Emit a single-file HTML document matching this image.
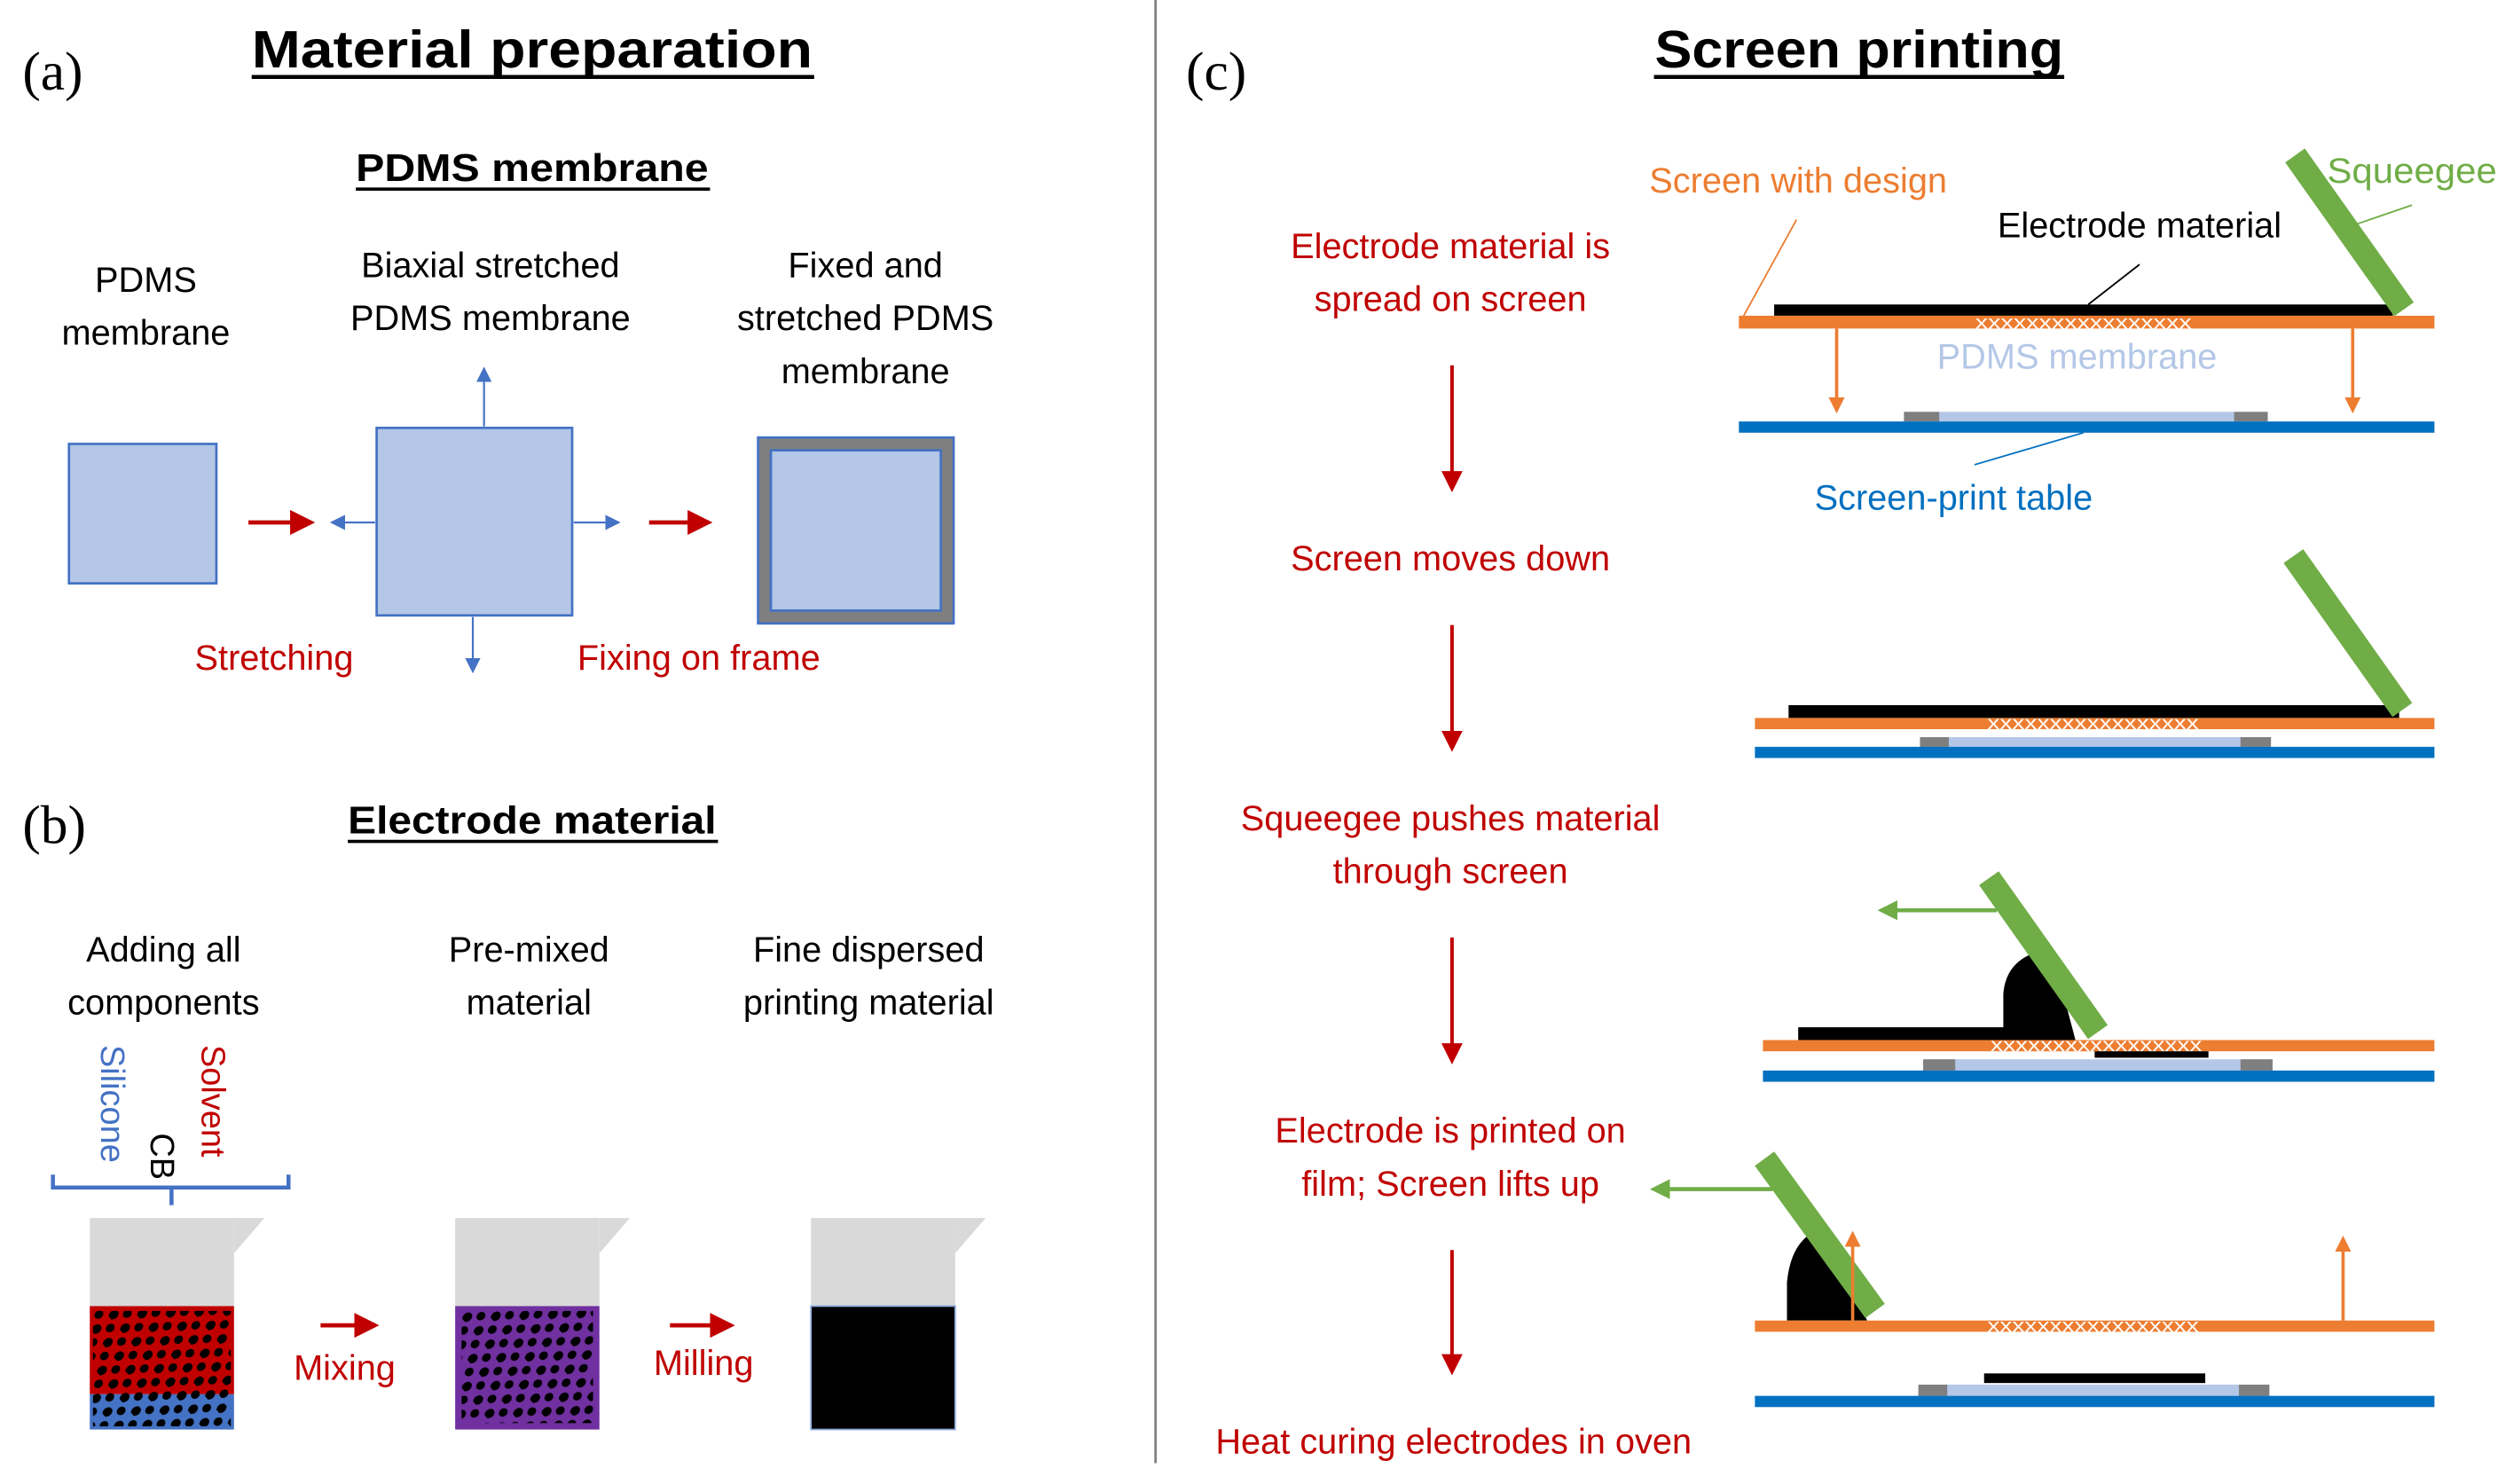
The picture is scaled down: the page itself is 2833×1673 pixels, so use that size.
<!DOCTYPE html>
<html><head><meta charset="utf-8"><style>
html,body{margin:0;padding:0;background:#fff;}
svg{display:block;}
text{font-family:"Liberation Sans",sans-serif;}
.r{fill:#c00000;font-size:22px;text-anchor:middle;}
.k{fill:#000;font-size:22px;text-anchor:middle;}
</style></head><body>
<svg width="2833" height="1673" viewBox="0 0 1568 926" xmlns="http://www.w3.org/2000/svg">
<defs>
<pattern id="dots" width="14" height="11" patternUnits="userSpaceOnUse" patternTransform="rotate(-40)">
<ellipse cx="3" cy="3" rx="3.4" ry="2.6" fill="#000"/>
<ellipse cx="10" cy="8" rx="3" ry="2.4" fill="#000"/>
</pattern>
<marker id="ar" markerWidth="6" markerHeight="6" refX="5" refY="3" orient="auto" markerUnits="strokeWidth"><path d="M0,0 L6,3 L0,6 z" fill="#c00000"/></marker>
<marker id="ab" markerWidth="8" markerHeight="8" refX="7" refY="4" orient="auto" markerUnits="strokeWidth"><path d="M0,0 L8,4 L0,8 z" fill="#4472c4"/></marker>
<marker id="ao" markerWidth="5" markerHeight="5" refX="4" refY="2.5" orient="auto" markerUnits="strokeWidth"><path d="M0,0 L5,2.5 L0,5 z" fill="#ed7d31"/></marker>
<marker id="ag" markerWidth="5" markerHeight="5" refX="4" refY="2.5" orient="auto" markerUnits="strokeWidth"><path d="M0,0 L5,2.5 L0,5 z" fill="#70ad47"/></marker>
</defs>
<rect width="1568" height="926" fill="#fff"/>
<line x1="721" y1="0" x2="721" y2="913" stroke="#7f7f7f" stroke-width="1.5"/>

<text x="14" y="56" style="font-family:'Liberation Serif',serif;font-size:34px">(a)</text>
<text x="14" y="526" style="font-family:'Liberation Serif',serif;font-size:34px">(b)</text>
<text x="740" y="56" style="font-family:'Liberation Serif',serif;font-size:34px">(c)</text>

<text x="332" y="42" text-anchor="middle" font-weight="bold" font-size="33" textLength="350" lengthAdjust="spacingAndGlyphs">Material preparation</text>
<line x1="157" y1="48" x2="508" y2="48" stroke="#000" stroke-width="2.5"/>
<text x="1160" y="42" text-anchor="middle" font-weight="bold" font-size="33" textLength="255" lengthAdjust="spacingAndGlyphs">Screen printing</text>
<line x1="1032" y1="48" x2="1288" y2="48" stroke="#000" stroke-width="2.5"/>
<text x="332" y="113" text-anchor="middle" font-weight="bold" font-size="24" textLength="220" lengthAdjust="spacingAndGlyphs">PDMS membrane</text>
<line x1="222" y1="118" x2="443" y2="118" stroke="#000" stroke-width="2"/>
<text x="332" y="520" text-anchor="middle" font-weight="bold" font-size="24" textLength="230" lengthAdjust="spacingAndGlyphs">Electrode material</text>
<line x1="217" y1="525" x2="448" y2="525" stroke="#000" stroke-width="2"/>

<!-- (a) -->
<text class="k" x="91" y="182">PDMS</text>
<text class="k" x="91" y="215">membrane</text>
<text class="k" x="306" y="173">Biaxial stretched</text>
<text class="k" x="306" y="206">PDMS membrane</text>
<text class="k" x="540" y="173">Fixed and</text>
<text class="k" x="540" y="206">stretched PDMS</text>
<text class="k" x="540" y="239">membrane</text>
<rect x="43" y="277" width="92" height="87" fill="#b4c7e7" stroke="#4472c4" stroke-width="1.5"/>
<rect x="235" y="267" width="122" height="117" fill="#b4c7e7" stroke="#4472c4" stroke-width="1.5"/>
<rect x="473" y="273" width="122" height="116" fill="#7f7f7f" stroke="#4472c4" stroke-width="1.5"/>
<rect x="481" y="281" width="106" height="100" fill="#b4c7e7" stroke="#4472c4" stroke-width="1.5"/>
<line x1="155" y1="326" x2="194" y2="326" stroke="#c00000" stroke-width="2.6" marker-end="url(#ar)"/>
<line x1="405" y1="326" x2="442" y2="326" stroke="#c00000" stroke-width="2.6" marker-end="url(#ar)"/>
<line x1="302" y1="266" x2="302" y2="230" stroke="#4472c4" stroke-width="1.2" marker-end="url(#ab)"/>
<line x1="295" y1="385" x2="295" y2="419" stroke="#4472c4" stroke-width="1.2" marker-end="url(#ab)"/>
<line x1="234" y1="326" x2="207" y2="326" stroke="#4472c4" stroke-width="1.2" marker-end="url(#ab)"/>
<line x1="358" y1="326" x2="386" y2="326" stroke="#4472c4" stroke-width="1.2" marker-end="url(#ab)"/>
<text class="r" x="171" y="418">Stretching</text>
<text class="r" x="436" y="418">Fixing on frame</text>

<!-- (b) -->
<text class="k" x="102" y="600">Adding all</text>
<text class="k" x="102" y="633">components</text>
<text class="k" x="330" y="600">Pre-mixed</text>
<text class="k" x="330" y="633">material</text>
<text class="k" x="542" y="600">Fine dispersed</text>
<text class="k" x="542" y="633">printing material</text>
<text transform="translate(63,652) rotate(90)" font-size="21" fill="#4472c4">Silicone</text>
<text transform="translate(94,707) rotate(90)" font-size="21" fill="#000">CB</text>
<text transform="translate(126,652) rotate(90)" font-size="21" fill="#c00000">Solvent</text>
<path d="M33,733 V741 H180 V733 M107,741 V752" fill="none" stroke="#4472c4" stroke-width="2.5"/>

<g>
<rect x="56" y="760" width="90" height="56" fill="#d9d9d9"/><path d="M146,760 H165 L146,782 z" fill="#d9d9d9"/>
<rect x="56" y="815" width="90" height="55" fill="#c00000"/><rect x="56" y="870" width="90" height="22" fill="#4472c4"/>
<rect x="58" y="818" width="86" height="72" fill="url(#dots)"/>
<rect x="284" y="760" width="90" height="56" fill="#d9d9d9"/><path d="M374,760 H393 L374,782 z" fill="#d9d9d9"/>
<rect x="284" y="815" width="90" height="77" fill="#7030a0"/>
<rect x="288" y="818" width="82" height="70" fill="url(#dots)"/>
<rect x="506" y="760" width="90" height="56" fill="#d9d9d9"/><path d="M596,760 H615 L596,782 z" fill="#d9d9d9"/>
<rect x="506" y="815" width="90" height="77" fill="#000" stroke="#8faadc" stroke-width="1"/>
</g>
<line x1="200" y1="827" x2="234" y2="827" stroke="#c00000" stroke-width="2.6" marker-end="url(#ar)"/>
<line x1="418" y1="827" x2="456" y2="827" stroke="#c00000" stroke-width="2.6" marker-end="url(#ar)"/>
<text class="r" x="215" y="861">Mixing</text>
<text class="r" x="439" y="858">Milling</text>

<!-- (c) left column -->
<text class="r" x="905" y="161">Electrode material is</text>
<text class="r" x="905" y="194">spread on screen</text>
<text class="r" x="905" y="356">Screen moves down</text>
<text class="r" x="905" y="518">Squeegee pushes material</text>
<text class="r" x="905" y="551">through screen</text>
<text class="r" x="905" y="713">Electrode is printed on</text>
<text class="r" x="905" y="746">film; Screen lifts up</text>
<text class="r" x="907" y="907">Heat curing electrodes in oven</text>
<g stroke="#c00000" stroke-width="2.2" marker-end="url(#ar)">
<line x1="906" y1="228" x2="906" y2="305"/>
<line x1="906" y1="390" x2="906" y2="467"/>
<line x1="906" y1="585" x2="906" y2="662"/>
<line x1="906" y1="780" x2="906" y2="856"/>
</g>

<!-- diagram 1 -->
<text x="1122" y="120" text-anchor="middle" font-size="22" fill="#ed7d31">Screen with design</text>
<text x="1452" y="114" font-size="22" fill="#70ad47" textLength="106" lengthAdjust="spacingAndGlyphs">Squeegee</text>
<text x="1335" y="148" text-anchor="middle" font-size="22">Electrode material</text>
<line x1="1088" y1="197" x2="1121" y2="137" stroke="#ed7d31" stroke-width="1"/>
<line x1="1303" y1="190" x2="1335" y2="165" stroke="#000" stroke-width="1"/>
<line x1="1470" y1="140" x2="1505" y2="128" stroke="#70ad47" stroke-width="1"/>
<rect x="1107" y="190" width="386" height="7" fill="#000"/>
<rect x="1085" y="197" width="434" height="8" fill="#ed7d31"/>
<text x="1300" y="205" text-anchor="middle" font-size="12" fill="#fff" textLength="135" lengthAdjust="spacingAndGlyphs">xxxxxxxxxxxxxxxxx</text>
<line x1="1432" y1="97" x2="1500" y2="193" stroke="#70ad47" stroke-width="15"/>
<line x1="1146" y1="205" x2="1146" y2="256" stroke="#ed7d31" stroke-width="2" marker-end="url(#ao)"/>
<line x1="1468" y1="205" x2="1468" y2="256" stroke="#ed7d31" stroke-width="2" marker-end="url(#ao)"/>
<text x="1296" y="230" text-anchor="middle" font-size="22" fill="#b4c7e7">PDMS membrane</text>
<rect x="1188" y="257" width="227" height="6" fill="#b4c7e7"/>
<rect x="1188" y="257" width="22" height="6" fill="#7f7f7f"/><rect x="1394" y="257" width="21" height="6" fill="#7f7f7f"/>
<rect x="1085" y="263" width="434" height="7" fill="#0070c0"/>
<line x1="1300" y1="270" x2="1232" y2="290" stroke="#0070c0" stroke-width="1"/>
<text x="1219" y="318" text-anchor="middle" font-size="22" fill="#0070c0">Screen-print table</text>

<!-- diagram 2 -->
<rect x="1116" y="440" width="381" height="8" fill="#000"/>
<rect x="1095" y="448" width="424" height="7" fill="#ed7d31"/>
<text x="1306" y="455" text-anchor="middle" font-size="12" fill="#fff" textLength="132" lengthAdjust="spacingAndGlyphs">xxxxxxxxxxxxxxxxx</text>
<line x1="1431" y1="347" x2="1499" y2="443" stroke="#70ad47" stroke-width="15"/>
<rect x="1198" y="460" width="219" height="6" fill="#b4c7e7"/>
<rect x="1198" y="460" width="18" height="6" fill="#7f7f7f"/><rect x="1398" y="460" width="19" height="6" fill="#7f7f7f"/>
<rect x="1095" y="466" width="424" height="7" fill="#0070c0"/>

<!-- diagram 3 -->
<rect x="1122" y="641" width="133" height="8" fill="#000"/>
<path d="M1250,649 V620 Q1252,596 1280,592 L1295,649 z" fill="#000"/>
<rect x="1100" y="649" width="419" height="7" fill="#ed7d31"/>
<text x="1308" y="656" text-anchor="middle" font-size="12" fill="#fff" textLength="132" lengthAdjust="spacingAndGlyphs">xxxxxxxxxxxxxxxxx</text>
<rect x="1307" y="656" width="71" height="4" fill="#000"/>
<line x1="1241" y1="548" x2="1309" y2="644" stroke="#70ad47" stroke-width="15"/>
<line x1="1246" y1="568" x2="1174" y2="568" stroke="#70ad47" stroke-width="2.5" marker-end="url(#ag)"/>
<rect x="1200" y="661" width="218" height="7" fill="#b4c7e7"/>
<rect x="1200" y="661" width="20" height="7" fill="#7f7f7f"/><rect x="1398" y="661" width="20" height="7" fill="#7f7f7f"/>
<rect x="1100" y="668" width="419" height="7" fill="#0070c0"/>

<!-- diagram 4 -->
<path d="M1115,824 V800 Q1118,770 1140,766 L1165,824 z" fill="#000"/>
<rect x="1095" y="824" width="424" height="7" fill="#ed7d31"/>
<text x="1306" y="831" text-anchor="middle" font-size="12" fill="#fff" textLength="132" lengthAdjust="spacingAndGlyphs">xxxxxxxxxxxxxxxxx</text>
<line x1="1101" y1="723" x2="1170" y2="818" stroke="#70ad47" stroke-width="15"/>
<line x1="1106" y1="742" x2="1032" y2="742" stroke="#70ad47" stroke-width="2.5" marker-end="url(#ag)"/>
<line x1="1156" y1="824" x2="1156" y2="770" stroke="#ed7d31" stroke-width="2" marker-end="url(#ao)"/>
<line x1="1462" y1="824" x2="1462" y2="773" stroke="#ed7d31" stroke-width="2" marker-end="url(#ao)"/>
<rect x="1238" y="857" width="138" height="6" fill="#000"/>
<rect x="1197" y="864" width="219" height="7" fill="#b4c7e7"/>
<rect x="1197" y="864" width="18" height="7" fill="#7f7f7f"/><rect x="1397" y="864" width="19" height="7" fill="#7f7f7f"/>
<rect x="1095" y="871" width="424" height="7" fill="#0070c0"/>
</svg>
</body></html>
